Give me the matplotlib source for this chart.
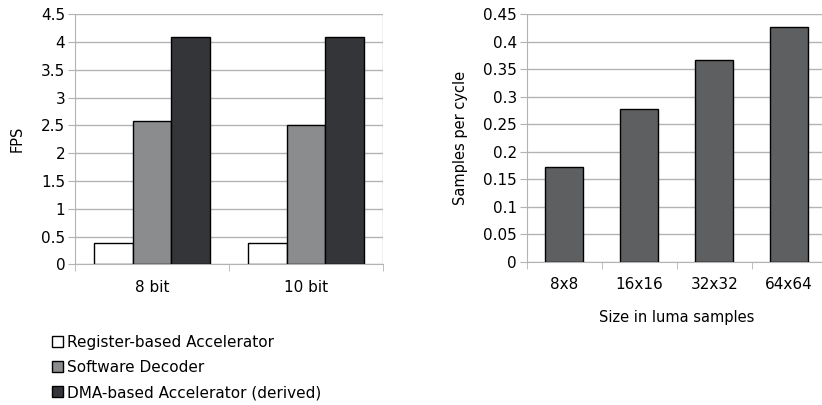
import matplotlib
matplotlib.use("Agg")
import matplotlib.pyplot as plt
import numpy as np
from matplotlib.patches import Patch

plt.rcParams['font.family'] = ['DejaVu Sans']

# Left chart data
groups = ["8 bit", "10 bit"]
series_names = ["Register-based Accelerator", "Software Decoder", "DMA-based Accelerator (derived)"]
register_fps = [0.38, 0.38]
software_fps = [2.58, 2.50]
dma_fps = [4.10, 4.10]
left_yticks = [0, 0.5, 1, 1.5, 2, 2.5, 3, 3.5, 4, 4.5]
left_yticklabels = ["0", "0.5", "1", "1.5", "2", "2.5", "3", "3.5", "4", "4.5"]

# Right chart data
sizes = ["8x8", "16x16", "32x32", "64x64"]
samples_per_cycle = [0.173, 0.278, 0.366, 0.427]
right_yticks = [0, 0.05, 0.1, 0.15, 0.2, 0.25, 0.3, 0.35, 0.4, 0.45]
right_yticklabels = ["0", "0.05", "0.1", "0.15", "0.2", "0.25", "0.3", "0.35", "0.4", "0.45"]

colors = ["#ffffff", "#8b8c8e", "#333538"]
right_color = "#5e5f61"
grid_color = "#b3b3b3"

fig = plt.figure(figsize=(8.22, 4.05), dpi=100)

def style_axes(ax, ncat):
    ax.set_xlim(-0.5, ncat - 0.5)
    for s in ["top", "right"]:
        ax.spines[s].set_visible(False)
    ax.spines["left"].set_color(grid_color)
    ax.spines["bottom"].set_color(grid_color)
    ax.yaxis.grid(True, color=grid_color, linewidth=1)
    ax.set_axisbelow(True)
    ax.tick_params(axis="y", length=5, color=grid_color, labelsize=11, pad=2)
    ax.set_xticks(np.arange(ncat))
    ax.tick_params(axis="x", which="major", length=0, labelsize=11, pad=11)
    ax.set_xticks(np.arange(ncat + 1) - 0.5, minor=True)
    ax.tick_params(axis="x", which="minor", length=5, color=grid_color)

# Left axes
ax1 = fig.add_axes([75 / 822, (405 - 264.3) / 405, 308 / 822, 250 / 405])
x = np.arange(len(groups))
w = 0.25
for i, (vals, c) in enumerate(zip([register_fps, software_fps, dma_fps], colors)):
    ax1.bar(x + (i - 1) * w, vals, w, color=c, edgecolor="black", linewidth=1, zorder=3)
style_axes(ax1, len(groups))
ax1.set_ylim(0, 4.5)
ax1.set_yticks(left_yticks)
ax1.set_yticklabels(left_yticklabels)
ax1.set_xticklabels(groups)
ax1.axvline(len(groups) - 0.5, color=grid_color, linewidth=1, zorder=1)
ax1.set_ylabel("FPS", fontsize=10.5, labelpad=12)

# Right axes
ax2 = fig.add_axes([526.7 / 822, (405 - 261.7) / 405, 300 / 822, 247.4 / 405])
ax2.bar(np.arange(len(sizes)), samples_per_cycle, 0.5, color=right_color, edgecolor="black", linewidth=1, zorder=3)
style_axes(ax2, len(sizes))
ax2.set_ylim(0, 0.45)
ax2.set_yticks(right_yticks)
ax2.set_yticklabels(right_yticklabels)
ax2.set_xticklabels(sizes)
ax2.set_ylabel("Samples per cycle", fontsize=10.5, labelpad=11)
ax2.set_xlabel("Size in luma samples", fontsize=10.5, labelpad=13)

handles = [Patch(facecolor=c, edgecolor="black", linewidth=1) for c in colors]
fig.legend(handles, series_names, loc="upper left", bbox_to_anchor=(52 / 822, 1 - 335 / 405),
           frameon=False, fontsize=11, handlelength=0.72, handleheight=0.72, handletextpad=0.25,
           labelspacing=0.66, borderpad=0, borderaxespad=0)

fig.savefig("out.png", dpi=100)
